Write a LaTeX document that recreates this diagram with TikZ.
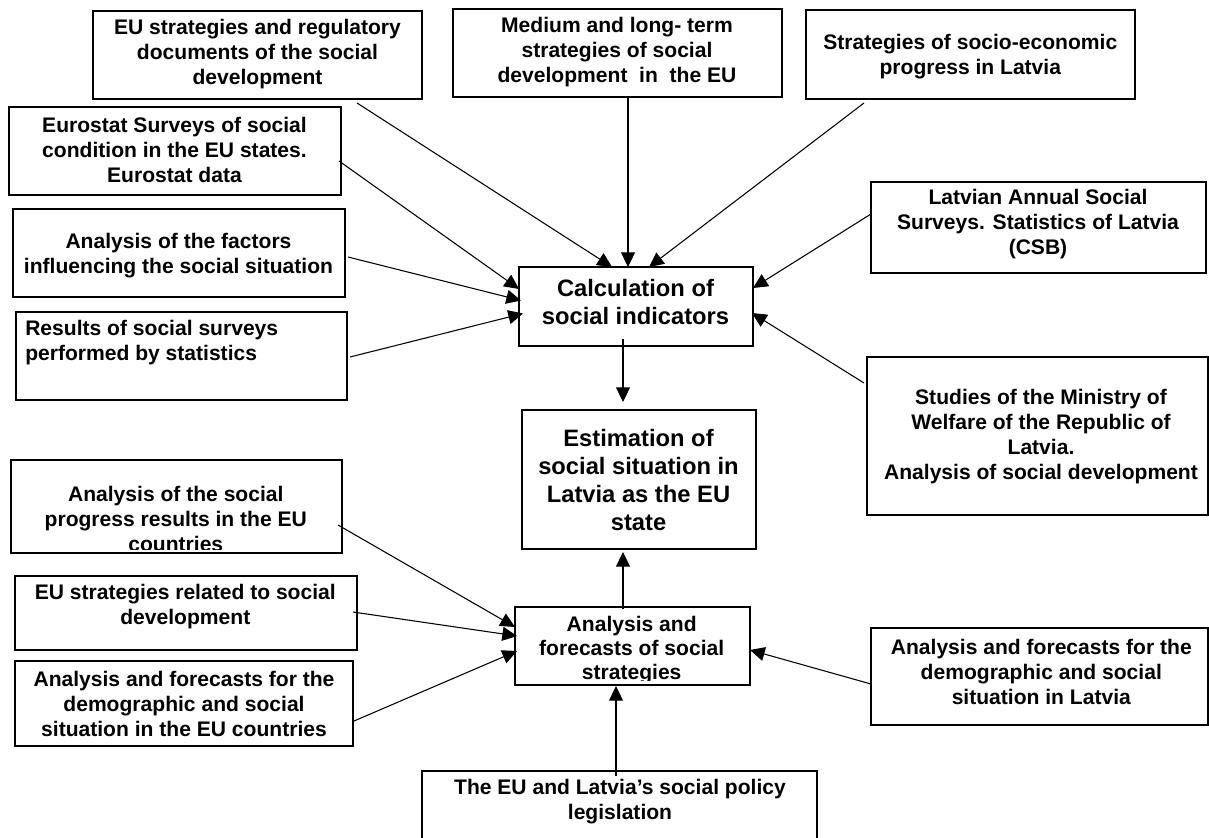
\documentclass[tikz,border=0pt]{standalone}
\usepackage{fontspec}
\setmainfont{Liberation Sans}
\usetikzlibrary{arrows.meta,calc}
\tikzset{
  box/.style={draw, line width=1.1pt, inner sep=0pt, outer sep=0pt},
  txt/.style={font=\bfseries\fontsize{15.8}{18.75}\selectfont, align=center, inner sep=0pt},
  bigtxt/.style={font=\bfseries\fontsize{17.8}{21}\selectfont, align=center, inner sep=0pt},
  conn/.style={line width=0.8pt, -{Triangle[length=11pt,width=10.5pt]}},
}
\begin{document}
\begin{tikzpicture}[x=0.75pt,y=-0.75pt]
\useasboundingbox (0,0) rectangle (1209,838);
% boxes
\node[box, minimum width=246.75pt, minimum height=66pt]    (b1)   at (257.5,55) {};
\node[box, minimum width=249pt,    minimum height=66pt]    (b2)   at (175,151) {};
\node[box, minimum width=249pt,    minimum height=66pt]    (b3)   at (179,253) {};
\node[box, minimum width=248.25pt, minimum height=66pt]    (b4)   at (181.5,356) {};
\node[box, minimum width=246.75pt, minimum height=66pt]    (b5)   at (617.5,53) {};
\node[box, minimum width=246.75pt, minimum height=66.75pt] (b6)   at (970.5,54.5) {};
\node[box, minimum width=251.25pt, minimum height=68.25pt] (b7)   at (1038.5,227.5) {};
\node[box, minimum width=255.75pt, minimum height=118.5pt] (b8)   at (1037.5,436) {};
\node[box, minimum width=175.5pt,  minimum height=59.25pt] (calc) at (636,306.5) {};
\node[box, minimum width=175.5pt,  minimum height=104.25pt](est)  at (639,479.5) {};
\node[box, minimum width=248.25pt, minimum height=69.75pt] (b9)   at (176.5,506.5) {};
\node[box, minimum width=256.5pt,  minimum height=55.5pt]  (b10)  at (186,613) {};
\node[box, minimum width=253.5pt,  minimum height=63.75pt] (b11)  at (184,703.5) {};
\node[box, minimum width=176.25pt, minimum height=58.5pt]  (af)   at (632.5,646) {};
\node[box, minimum width=252.75pt, minimum height=72.75pt] (b13)  at (1039.5,676.5) {};
\node[box, minimum width=296.25pt, minimum height=55.5pt]  (b12)  at (619.5,808) {};
% texts
\node[txt] (t1) at (257.5,54) {EU strategies and regulatory\\documents of the social\\development};
\node[txt] (t2) at (174.5,150) {Eurostat Surveys of social\\condition in the EU states.\\Eurostat data};
\node[txt] (t3) at (178.5,256) {Analysis of the factors\\influencing the social situation};
\node[txt, align=left, anchor=west] (t4) at (25,343) {Results of social surveys\\performed by statistics};
\node[txt] (t5) at (617,52) {Medium and long- term\\strategies of social\\development\ \ in\ \ the EU};
\node[txt] (t6) at (970.3,57) {Strategies of socio-economic\\progress in Latvia};
\node[txt] (t7) at (1038,224.5) {Latvian Annual Social\\Surveys. Statistics of Latvia\\(CSB)};
\node[txt] (t8) at (1041,437) {Studies of the Ministry of\\Welfare of the Republic of\\Latvia.\\Analysis of social development};
\node[bigtxt] (tcalc) at (635.5,302) {Calculation of\\social indicators};
\node[bigtxt] (test) at (638.5,480) {Estimation of\\social situation in\\Latvia as the EU\\state};
\begin{scope}
  \clip ($(b9.south west)+(0,-4)$) rectangle (b9.north east);
  \node[txt] (t9) at (175.8,519) {Analysis of the social\\progress results in the EU\\countries};
\end{scope}
\node[txt] (t10) at (185.3,607) {EU strategies related to social\\development};
\node[txt] (t11) at (184,704) {Analysis and forecasts for the\\demographic and social\\situation in the EU countries};
\begin{scope}
  \clip ($(af.south west)+(0,-5)$) rectangle (af.north east);
  \node[txt, font=\bfseries\fontsize{15.8}{18}\selectfont] (taf) at (631.7,650) {Analysis and\\forecasts of social\\strategies};
\end{scope}
\node[txt] (t13) at (1041.3,671.5) {Analysis and forecasts for the\\demographic and social\\situation in Latvia};
\node[txt] (t12) at (620,802) {The EU and Latvia’s social policy\\legislation};
% connectors
\draw[conn] ($(b1.south)+(99.5,4)$) -- ($(calc.north)+(-24,0)$);
\draw[conn] ($(b5.south)+(10.5,0)$) -- ($(calc.north)+(-8,0)$);
\draw[conn] ($(b6.south)+(-106.5,4)$) -- ($(calc.north)+(13,0)$);
\draw[conn] ($(b2.east)+(-2,10)$) -- ($(calc.west)+(0,-17.5)$);
\draw[conn] ($(b3.east)+(3,4)$) -- ($(calc.west)+(2,-6)$);
\draw[conn] ($(b4.east)+(3,1)$) -- ($(calc.west)+(4,7)$);
\draw[conn] ($(b7.west)+(0,-13.5)$) -- ($(calc.east)+(0,-18.5)$);
\draw[conn] ($(b8.west)+(-3,-53)$) -- ($(calc.east)+(-1,6.5)$);
\draw[conn] ($(calc.south)+(-13,-7)$) -- ($(est.north)+(-16,-8)$);
\draw[conn] ($(af.north)+(-9.5,2)$) -- ($(est.south)+(-16,3)$);
\draw[conn] ($(b12.north)+(-3.5,5)$) -- ($(af.south)+(-16.5,1)$);
\draw[conn] ($(b9.east)+(-4,18.5)$) -- ($(af.west)+(0,-19)$);
\draw[conn] ($(b10.east)+(-4,-1)$) -- ($(af.west)+(2,-10)$);
\draw[conn] ($(b11.east)+(1,17.5)$) -- ($(af.west)+(2,5)$);
\draw[conn] ($(b13.west)+(0,7.5)$) -- ($(af.east)+(0,4)$);
\end{tikzpicture}
\end{document}
